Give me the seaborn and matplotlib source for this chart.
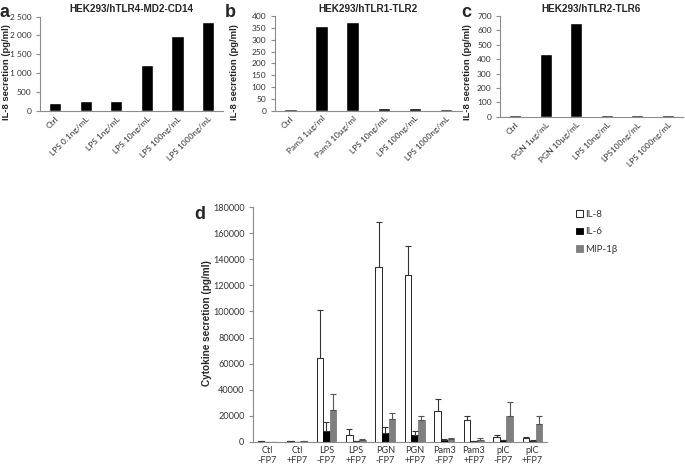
import numpy as np
import pandas as pd
import seaborn as sns
import matplotlib
matplotlib.use("Agg")
import matplotlib.pyplot as plt
from matplotlib.patches import Patch
from matplotlib.ticker import FuncFormatter, MultipleLocator, FixedLocator

# --- panel a-c data ---
cats_a = ['Ctrl', 'LPS 0.1ng/mL', 'LPS 1ng/mL', 'LPS 10ng/mL', 'LPS 100ng/mL', 'LPS 1000ng/mL']
vals_a = [220, 280, 270, 1220, 1980, 2350]
cats_b = ['Ctrl', 'Pam3 1µg/ml', 'Pam3 10µg/ml', 'LPS 10ng/mL', 'LPS 100ng/mL', 'LPS 1000ng/mL']
vals_b = [8, 357, 376, 10, 10, 8]
cats_c = ['Ctrl', 'PGN 1µg/mL', 'PGN 10µg/mL', 'LPS 10ng/mL', 'LPS100ng/mL', 'LPS 1000ng/mL']
vals_c = [12, 440, 655, 12, 12, 12]

# --- panel d data ---
groups_d = ['Ctl\n-FP7', 'Ctl\n+FP7', 'LPS\n-FP7', 'LPS\n+FP7', 'PGN\n-FP7', 'PGN\n+FP7',
            'Pam3\n-FP7', 'Pam3\n+FP7', 'pIC\n-FP7', 'pIC\n+FP7']
cytokines = ['IL-8', 'IL-6', 'MIP-1β']
il8 = [500, 500, 64500, 5000, 134000, 128000, 24000, 17000, 3500, 2800]
il6 = [100, 100, 8500, 300, 7000, 5000, 1500, 700, 1200, 800]
mip = [200, 300, 24500, 1000, 17500, 16500, 2000, 1500, 19500, 14000]
il8_err = [0, 0, 36500, 4500, 34500, 22000, 8500, 2500, 1500, 500]
il6_err = [0, 0, 6500, 0, 4500, 3500, 500, 200, 300, 200]
mip_err = [0, 0, 12000, 1500, 4500, 3000, 1000, 1500, 11000, 5500]

sns.set_style('white')
plt.rcParams['font.family'] = ['Lato', 'DejaVu Sans']

spine_c = '#8c8c8c'
text_c = '#333333'
bold_font = ['Liberation Sans', 'DejaVu Sans']

fig = plt.figure(figsize=(6.85, 4.73), dpi=100)


def style_axes(ax, n, fs):
    for s in ['top', 'right']:
        ax.spines[s].set_visible(False)
    for s in ['left', 'bottom']:
        ax.spines[s].set_color(spine_c)
        ax.spines[s].set_linewidth(0.8)
    ax.set_xlim(-0.5, n - 0.5)
    ax.xaxis.set_minor_locator(FixedLocator(np.arange(-0.5, n, 1.0)))
    ax.tick_params(axis='x', which='major', length=0, labelsize=fs, colors=text_c, pad=3)
    ax.tick_params(axis='x', which='minor', length=3, color=spine_c, width=0.8)
    ax.tick_params(axis='y', which='major', length=3, color=spine_c, width=0.8,
                   labelsize=fs, labelcolor=text_c, pad=3, left=True)
    ax.set_xlabel('')
    ax.set_ylabel('')


def small_panel(rect, cats, vals, ymax, step, title, letter, letter_x, ylab_x, fmt=None):
    ax = fig.add_axes(rect)
    df = pd.DataFrame({'cat': cats, 'val': vals})
    sns.barplot(data=df, x='cat', y='val', color='black', width=0.4, ax=ax,
                saturation=1, errorbar=None)
    style_axes(ax, len(cats), 6)
    ax.set_ylim(0, ymax)
    ax.yaxis.set_major_locator(MultipleLocator(step))
    if fmt is not None:
        ax.yaxis.set_major_formatter(FuncFormatter(fmt))
    ax.set_xticks(range(len(cats)))
    ax.set_xticklabels(cats, rotation=45, ha='right', rotation_mode='anchor')
    ax.set_title(title, fontsize=7.2, fontweight='bold', family=bold_font, pad=3)
    fig.text(ylab_x, 0.848, 'IL-8 secretion (pg/ml)', rotation=90,
             fontsize=6.8, fontweight='bold', family=bold_font, ha='center', va='center')
    fig.text(letter_x, 0.965, letter, fontsize=13, fontweight='bold', family=bold_font,
             ha='left', va='baseline')
    return ax


small_panel([0.058, 0.765, 0.268, 0.200], cats_a, vals_a, 2500, 500,
            'HEK293/hTLR4-MD2-CD14', 'a', 0.0, 0.010,
            fmt=lambda v, p: f'{int(v):,}'.replace(',', ' '))
small_panel([0.401, 0.766, 0.273, 0.200], cats_b, vals_b, 400, 50,
            'HEK293/hTLR1-TLR2', 'b', 0.328, 0.342)
small_panel([0.730, 0.753, 0.267, 0.213], cats_c, vals_c, 700, 100,
            'HEK293/hTLR2-TLR6', 'c', 0.673, 0.683)

# --- panel d ---
axd = fig.add_axes([0.369, 0.066, 0.430, 0.496])
long_df = pd.DataFrame({
    'group': groups_d * 3,
    'cytokine': [c for c in cytokines for _ in groups_d],
    'value': il8 + il6 + mip,
})
palette = {'IL-8': 'white', 'IL-6': 'black', 'MIP-1β': '#7f7f7f'}
sns.barplot(data=long_df, x='group', y='value', hue='cytokine', hue_order=cytokines,
            palette=palette, width=0.67, saturation=1, errorbar=None,
            edgecolor='black', linewidth=0.6, legend=False, ax=axd)
errs = [il8_err, il6_err, mip_err]
vals = [il8, il6, mip]
err_cols = ['#333333', '#333333', '#555555']
bar_conts = list(axd.containers)
for k, cont in enumerate(bar_conts):
    xs = [p.get_x() + p.get_width() / 2 for p in cont.patches]
    if k > 0:
        for p in cont.patches:
            p.set_edgecolor(p.get_facecolor())
    axd.errorbar(xs, vals[k], yerr=[np.zeros(len(xs)), errs[k]], fmt='none',
                 ecolor=err_cols[k], elinewidth=0.8, capsize=2.5, capthick=0.8)

style_axes(axd, len(groups_d), 6.6)
axd.set_ylim(0, 180000)
axd.yaxis.set_major_locator(MultipleLocator(20000))
fig.text(0.302, 0.317, 'Cytokine secretion (pg/ml)', rotation=90, fontsize=7.2,
         fontweight='bold', family=bold_font, ha='center', va='center')
fig.text(0.283, 0.538, 'd', fontsize=13, fontweight='bold', family=bold_font,
         ha='left', va='baseline')

handles = [Patch(facecolor=palette[c], edgecolor='black' if c == 'IL-8' else palette[c],
                 linewidth=0.6, label=c) for c in cytokines]
leg = fig.legend(handles=handles, loc='upper left', bbox_to_anchor=(0.835, 0.565),
                 frameon=False, fontsize=7, handlelength=0.7, handleheight=0.7,
                 handletextpad=0.3, labelspacing=0.9, borderaxespad=0)
for t in leg.get_texts():
    t.set_color(text_c)

fig.savefig('out.png', dpi=100)
